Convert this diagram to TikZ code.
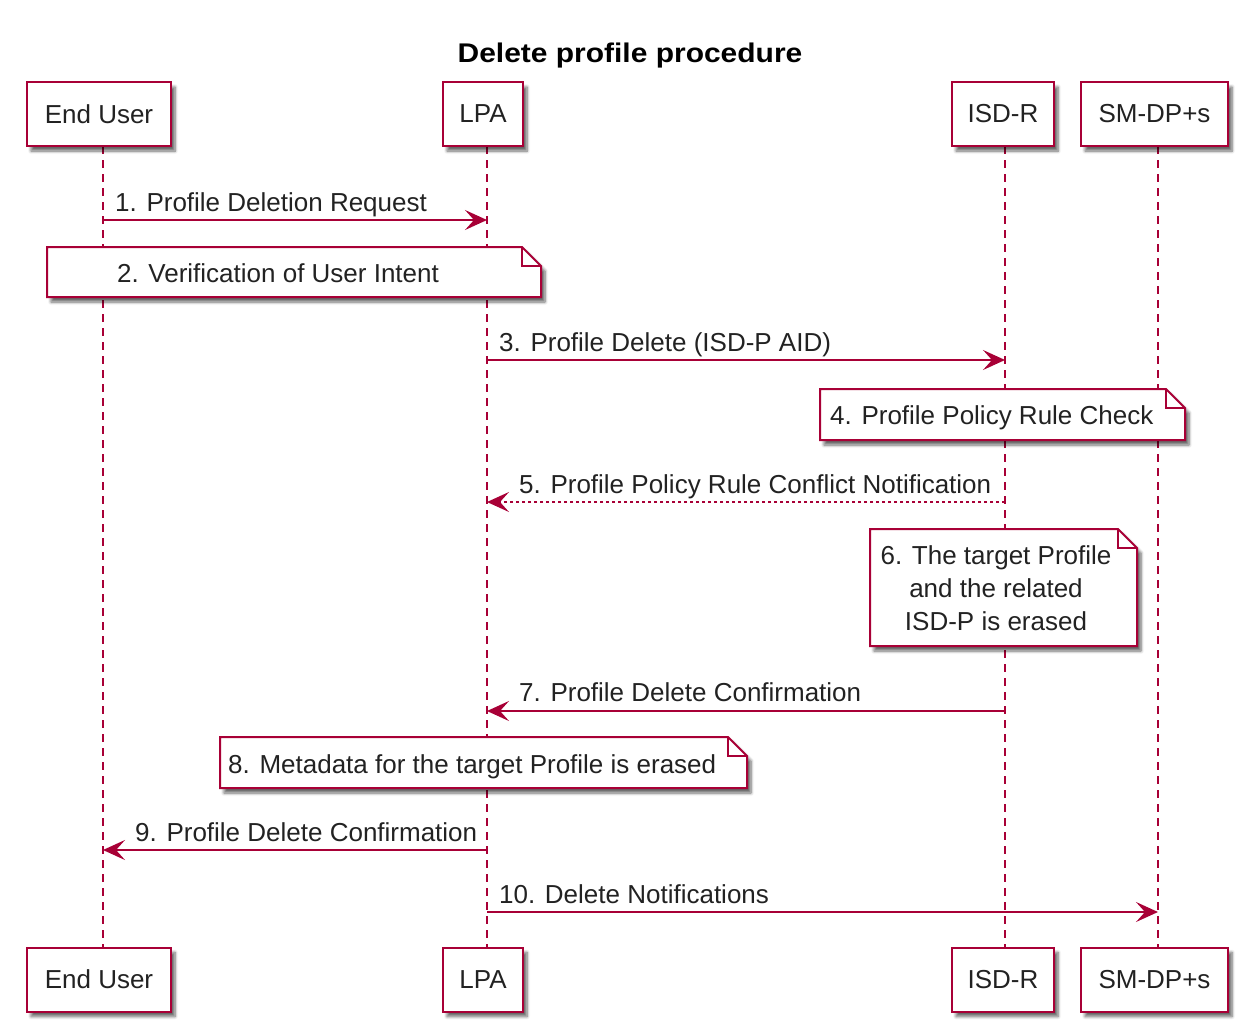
\documentclass[tikz,border=0pt]{standalone}
\usepackage{fontspec}
\setmainfont{Liberation Sans}
\newfontfamily\titlefont[FakeStretch=1.11]{Liberation Sans}
\usetikzlibrary{arrows.meta,shadows.blur}
\definecolor{umlred}{HTML}{A80036}
\definecolor{umltext}{HTML}{222222}

\tikzset{
  actor/.style={draw=umlred, line width=2pt, fill=white, inner sep=0pt,
    minimum height=64pt, text=umltext,
    blur shadow={shadow xshift=4pt, shadow yshift=-5pt, shadow blur radius=3pt, shadow blur steps=6, shadow opacity=60}},
  lifeline/.style={umlred, line width=1.5pt, dash pattern=on 8pt off 6pt},
  msg/.style={umlred, line width=1.6pt, -{Stealth[length=22pt,width=20pt,inset=9pt]}},
  reply/.style={msg, dash pattern=on 3pt off 3pt},
  notebox/.style={draw=umlred, line width=2pt, fill=white,
    blur shadow={shadow xshift=4pt, shadow yshift=-5pt, shadow blur radius=3pt, shadow blur steps=6, shadow opacity=60}},
  lbl/.style={anchor=base west, inner sep=0pt, text=umltext},
  notetext/.style={anchor=base west, inner sep=0pt, text=umltext},
}

% note outline with folded corner: left, top, right, bottom
\newcommand{\notebox}[4]{%
  \path[notebox] (#1,#2) -- (#3-19,#2) -- (#3,#2+19) -- (#3,#4) -- (#1,#4) -- cycle;
  \draw[umlred, line width=2pt] (#3-19,#2) -- (#3-19,#2+19) -- (#3,#2+19);}

\begin{document}
\begin{tikzpicture}[x=1pt, y=-1pt, font=\fontsize{26pt}{33pt}\selectfont]
\useasboundingbox (0,0) rectangle (1237,1023);

\node[anchor=base, inner sep=0pt] (title) at (630,62) {\titlefont\fontsize{27pt}{32pt}\selectfont\bfseries Delete profile procedure};

% lifeline positions
\coordinate (L-eu) at (103,0);
\coordinate (L-lpa) at (487,0);
\coordinate (L-isdr) at (1005,0);
\coordinate (L-smdp) at (1158,0);

% lifelines
\draw[lifeline] (L-eu |- 0,146) -- (L-eu |- 0,947);
\draw[lifeline] (L-lpa |- 0,146) -- (L-lpa |- 0,947);
\draw[lifeline] (L-isdr |- 0,146) -- (L-isdr |- 0,947);
\draw[lifeline] (L-smdp |- 0,146) -- (L-smdp |- 0,947);

% participants
\node[actor, minimum width=144pt] (eu) at (99,114) {End User};
\node[actor, minimum width=80pt] (lpa) at (483,114) {LPA};
\node[actor, minimum width=102pt] (isdr) at (1003,114) {ISD-R};
\node[actor, minimum width=147pt] (smdp) at (1154.5,114) {SM-DP+s};
\node[actor, minimum width=144pt] (eu2) at (99,979.5) {End User};
\node[actor, minimum width=80pt] (lpa2) at (483,979.5) {LPA};
\node[actor, minimum width=102pt] (isdr2) at (1003,979.5) {ISD-R};
\node[actor, minimum width=147pt] (smdp2) at (1154.5,979.5) {SM-DP+s};

% message rows
\coordinate (m1) at (0,220);
\coordinate (m3) at (0,360);
\coordinate (m5) at (0,502);
\coordinate (m7) at (0,711);
\coordinate (m9) at (0,850);
\coordinate (m10) at (0,912);

\draw[msg] (L-eu |- m1) -- (L-lpa |- m1);
\node[lbl] (t1) at (115,211) {1. Profile Deletion Request};

\notebox{47}{247}{541}{297}
\node[notetext, anchor=base] (t2) at (278,282) {2. Verification of User Intent};

\draw[msg] (L-lpa |- m3) -- (L-isdr |- m3);
\node[lbl] (t3) at (499,351) {3. Profile Delete (ISD-P AID)};

\notebox{820}{389}{1185}{440}
\node[notetext] (t4) at (830,424) {4. Profile Policy Rule Check};

\draw[reply] (L-isdr |- m5) -- (L-lpa |- m5);
\node[lbl] (t5) at (519,493) {5. Profile Policy Rule Conflict Notification};

\notebox{870}{529}{1137}{646}
\node[notetext, anchor=north, align=center] (t6) at (996,545) {6. The target Profile\\and the related\\ISD-P is erased};

\draw[msg] (L-isdr |- m7) -- (L-lpa |- m7);
\node[lbl] (t7) at (519,701) {7. Profile Delete Confirmation};

\notebox{220}{737}{747}{788}
\node[notetext] (t8) at (228,773) {8. Metadata for the target Profile is erased};

\draw[msg] (L-lpa |- m9) -- (L-eu |- m9);
\node[lbl] (t9) at (135,841) {9. Profile Delete Confirmation};

\draw[msg] (L-lpa |- m10) -- (L-smdp |- m10);
\node[lbl] (t10) at (499,903) {10. Delete Notifications};
\end{tikzpicture}
\end{document}
